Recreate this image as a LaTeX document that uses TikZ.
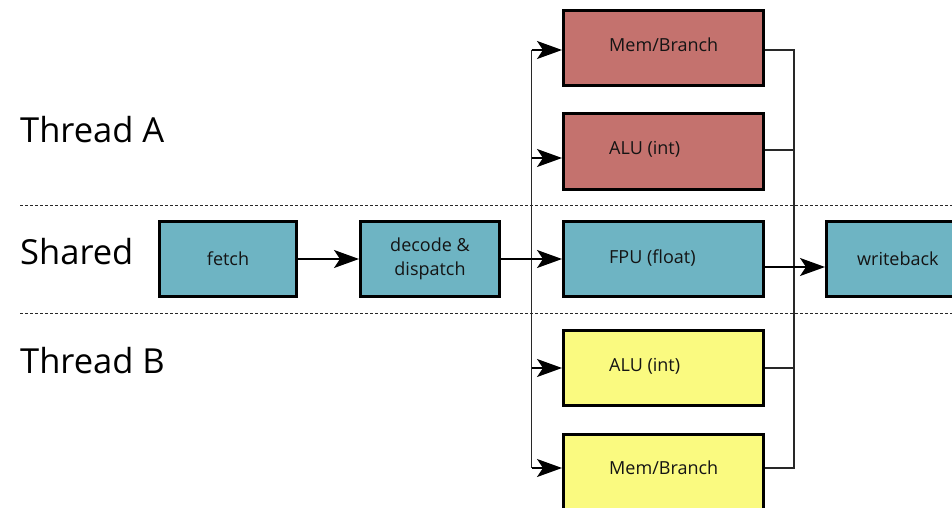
\documentclass[tikz,border=0pt]{standalone}
\usepackage{fontspec}
\setmainfont{Open Sans}
\usetikzlibrary{arrows.meta}
\definecolor{redc}{RGB}{196,114,110}
\definecolor{tealc}{RGB}{110,180,195}
\definecolor{yelc}{RGB}{250,250,128}
\definecolor{linec}{RGB}{40,40,40}
\begin{document}
\begin{tikzpicture}[x=1pt,y=-1pt,
  box/.style={draw=black, line width=3pt, inner sep=0pt, minimum height=75pt, minimum width=200pt},
  boxtxt/.style={font=\fontsize{18}{24}\selectfont, text=black!92},
  txt/.style={font=\fontsize{18}{24}\selectfont, text=black!92, inner sep=0pt, anchor=base west},
  lane/.style={font=\fontsize{34.5}{40}\selectfont, inner sep=0pt, anchor=base west},
  sep/.style={draw=linec, line width=1pt, dash pattern=on 3pt off 2pt},
  arr/.style={draw=black, line width=1.5pt, -{Stealth[length=25pt,width=18pt,inset=6pt]}},
  bus/.style={draw=linec, line width=1.3pt},
]
\useasboundingbox (0,0) rectangle (952,508);

% lane labels and separators
\node[lane] (tA) at (20,142) {Thread A};
\node[lane] (sh) at (20,264) {Shared};
\node[lane] (tB) at (20,373) {Thread B};
\coordinate (s1a) at (20,205);
\coordinate (s1b) at (952,205);
\coordinate (s2a) at (20,313);
\coordinate (s2b) at (952,313);
\draw[sep] (s1a) -- (s1b);
\draw[sep] (s2a) -- (s2b);

% boxes
\node[box, fill=redc] (mema) at (663.5,48) {};
\node[box, fill=redc] (alua) at (663.5,151.5) {};
\node[box, fill=tealc] (fpu) at (663.5,258.5) {};
\node[box, fill=yelc] (alub) at (663.5,368) {};
\node[box, fill=yelc] (memb) at (663.5,472) {};
\node[box, fill=tealc, minimum width=137pt, boxtxt] (fetch) at (228,259) {fetch};
\node[box, fill=tealc, minimum width=139pt, boxtxt, align=center] (dec) at (430,259) {decode \&\\dispatch};
\node[box, fill=tealc, minimum width=145pt] (wb) at (899,258.5) {};

% box texts
\node[txt] (memat) at (609,52) {Mem/Branch};
\node[txt] (aluat) at (609,154) {ALU (int)};
\node[txt] (fput) at (609,263) {FPU (float)};
\node[txt] (alubt) at (609,371) {ALU (int)};
\node[txt] (membt) at (609,474) {Mem/Branch};
\node[txt] (wbt) at (857,265) {writeback};

% left bus
\coordinate (lA) at (531.5,50);
\coordinate (lB) at (531.5,158);
\coordinate (lD) at (531.5,368);
\coordinate (lE) at (531.5,468);
\draw[bus] (lA) -- (lE);
\draw[arr] (lA) -- (lA -| mema.west);
\draw[arr] (lB) -- (lB -| alua.west);
\draw[arr] (lD) -- (lD -| alub.west);
\draw[arr] (lE) -- (lE -| memb.west);

% pipeline
\draw[arr] (fetch.east) -- (dec.west);
\draw[arr] (dec.east) -- (dec.east -| fpu.west);

% right bus
\coordinate (rA) at (794,50);
\coordinate (rB) at (794,150);
\coordinate (rD) at (794,368);
\coordinate (rE) at (794,468);
\draw[bus] (rA -| mema.east) -- (rA) -- (rE) -- (rE -| memb.east);
\draw[bus] (rB -| alua.east) -- (rB);
\draw[bus] (rD -| alub.east) -- (rD);
\coordinate (fo) at (794,267);
\draw[arr] (fo -| fpu.east) -- (fo -| wb.west);
\end{tikzpicture}
\end{document}
